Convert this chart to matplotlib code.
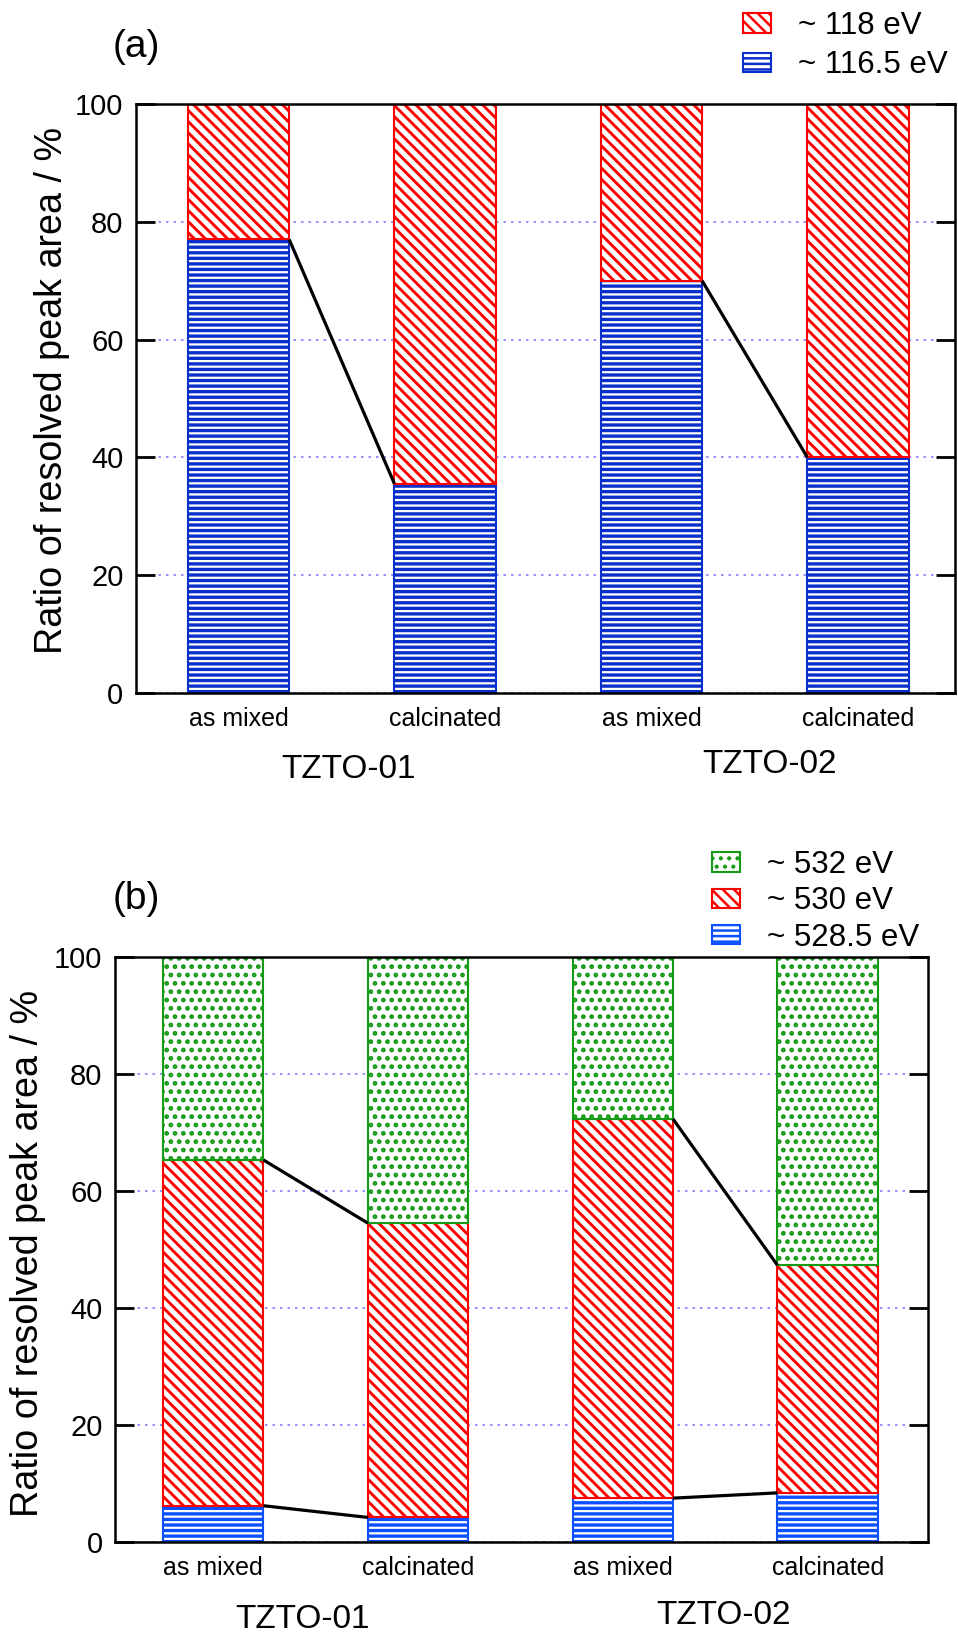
import matplotlib
matplotlib.use("Agg")
import matplotlib.pyplot as plt
import matplotlib.transforms as mtransforms

plt.rcParams['font.family'] = ['Liberation Sans', 'DejaVu Sans']
plt.rcParams['hatch.linewidth'] = 1.8

# samples / groups
samples = ['as mixed', 'calcinated', 'as mixed', 'calcinated']
groups = ['TZTO-01', 'TZTO-02']

# (a) Sn 4d components, % of resolved peak area
sn_labels = ['~ 118 eV', '~ 116.5 eV']
sn_low = [77.0, 35.5, 70.0, 40.0]     # ~116.5 eV
sn_high = [23.0, 64.5, 30.0, 60.0]    # ~118 eV

# (b) O 1s components
o_labels = ['~ 532 eV', '~ 530 eV', '~ 528.5 eV']
o_low = [6.2, 4.2, 7.5, 8.4]          # ~528.5 eV
o_mid = [59.1, 50.3, 64.8, 38.9]      # ~530 eV
o_high = [34.7, 45.5, 27.7, 52.7]     # ~532 eV

RED = '#ff0000'
BLUE_A = '#0a30cc'
BLUE_B = '#0a50ff'
GREEN = '#159a15'
W = 0.49

fig = plt.figure(figsize=(9.58, 16.36), dpi=100)
H = 1636.0
axa = fig.add_axes([136 / 958, 1 - 693 / H, 819 / 958, 589 / H])
axb = fig.add_axes([115 / 958, 1 - 1542 / H, 813 / 958, 585 / H])


def hbar(ax, x, h, bottom, color, hatch, hlw, label=None):
    with plt.rc_context({'hatch.linewidth': hlw}):
        bars = ax.bar(x, h, W, bottom=bottom, facecolor='white',
                      edgecolor=color, hatch=hatch, linewidth=1.5, label=label)
    for b in bars:
        if hasattr(b, 'set_hatch_linewidth'):
            b.set_hatch_linewidth(hlw)
    return bars


def style(ax, xlim):
    ax.set_xlim(*xlim)
    ax.set_ylim(0, 100)
    ax.set_yticks(range(0, 101, 20))
    ax.set_xticks(range(len(samples)))
    ax.set_xticklabels(samples, fontsize=18)
    ax.tick_params(axis='y', direction='in', length=14, width=2, right=True,
                   labelsize=21, pad=9)
    ax.tick_params(axis='x', length=0, pad=10)
    for s in ax.spines.values():
        s.set_linewidth(1.8)
    ax.yaxis.grid(True, color='#7f7fff', linestyle=(0, (1.5, 3)), linewidth=1.2)
    ax.set_axisbelow(True)


def join(ax, tops):
    # connect layer boundaries inside each sample group
    for i in (0, 2):
        ax.plot([i + W / 2, i + 1 - W / 2], [tops[i], tops[i + 1]],
                color='black', linewidth=2.3, zorder=5, solid_capstyle='butt')


x = list(range(len(samples)))

# ---- panel (a)
b_lo = hbar(axa, x, sn_low, 0, BLUE_A, '---', 2.4, sn_labels[1])
b_hi = hbar(axa, x, sn_high, sn_low, RED, '\\\\\\', 2.1, sn_labels[0])
join(axa, sn_low)
style(axa, (-0.497, 3.47))

# ---- panel (b)
mid_base = o_low
high_base = [a + b for a, b in zip(o_low, o_mid)]
c_lo = hbar(axb, x, o_low, 0, BLUE_B, '---', 2.4, o_labels[2])
c_mid = hbar(axb, x, o_mid, mid_base, RED, '\\\\\\', 2.1, o_labels[1])
c_hi = hbar(axb, x, o_high, high_base, GREEN, '..', 2.2, o_labels[0])
join(axb, o_low)
join(axb, high_base)
style(axb, (-0.48, 3.49))

# legends
fig.legend([b_hi, b_lo], sn_labels, loc='upper left',
           bbox_to_anchor=(743 / 958, 1 - 11 / H), frameon=False, fontsize=22.5,
           handlelength=0.9, handleheight=0.58, handletextpad=0.85,
           labelspacing=0.3, borderpad=0, borderaxespad=0)
fig.legend([c_hi, c_mid, c_lo], o_labels, loc='upper left',
           bbox_to_anchor=(712 / 958, 1 - 850 / H), frameon=False, fontsize=22.5,
           handlelength=0.9, handleheight=0.58, handletextpad=0.85,
           labelspacing=0.2, borderpad=0, borderaxespad=0)

# panel letters and y labels
fig.text(136 / 958, 1 - 47 / H, '(a)', fontsize=28, ha='center', va='center')
fig.text(136 / 958, 1 - 899 / H, '(b)', fontsize=28, ha='center', va='center')
ylab = 'Ratio of resolved peak area / %'
fig.text(52 / 958, 1 - 390 / H, ylab, fontsize=27.2, rotation=90,
         ha='center', va='center')
fig.text(28 / 958, 1 - 1253 / H, ylab, fontsize=27.2, rotation=90,
         ha='center', va='center')

# sample group names under the tick labels
ta = mtransforms.blended_transform_factory(axa.transData, fig.transFigure)
axa.text(0.53, 1 - 769 / H, groups[0], transform=ta, fontsize=24,
         ha='center', va='center')
axa.text(2.57, 1 - 765 / H, groups[1], transform=ta, fontsize=24,
         ha='center', va='center')
tb = mtransforms.blended_transform_factory(axb.transData, fig.transFigure)
axb.text(0.435, 1 - 1620 / H, groups[0], transform=tb, fontsize=24,
         ha='center', va='center')
axb.text(2.49, 1 - 1616 / H, groups[1], transform=tb, fontsize=24,
         ha='center', va='center')

fig.savefig('out.png', dpi=100)
